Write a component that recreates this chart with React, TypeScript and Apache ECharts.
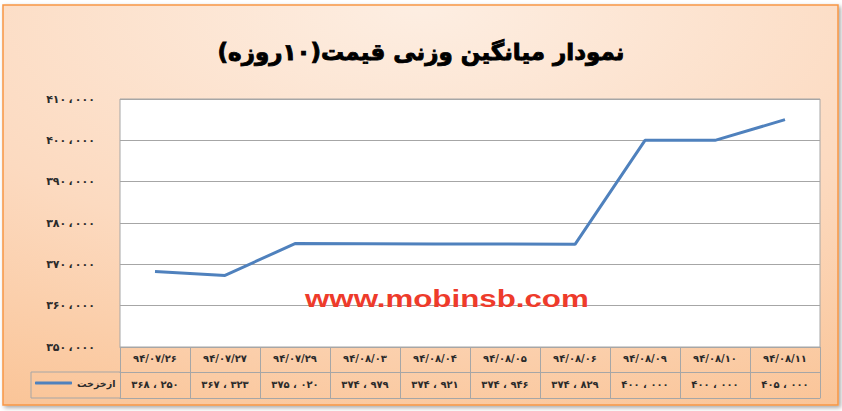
import { useEffect, useRef } from "react";
import * as echarts from "echarts";

// Dates of the 10 trading days and the weighted average price on each.
const CATEGORIES = ["94/07/26", "94/07/27", "94/07/29", "94/08/03", "94/08/04", "94/08/05", "94/08/06", "94/08/09", "94/08/10", "94/08/11"];
const PRICES = [368250, 367323, 375020, 374979, 374921, 374946, 374829, 400000, 400000, 405000];
const SERIES_NAME = "ازخزخت";
const TITLE = "نمودار میانگین وزنی قیمت(۱۰روزه)";
const WATERMARK = "www.mobinsb.com";
const Y_MIN = 350000;
const Y_MAX = 410000;
const Y_STEP = 10000;

const FONT = "DejaVu Sans";
const BLUE = "#4F81BD";
const GRID = "#A6A6A6";
const INK = "#2b2b2b";

// Latin digits -> Persian digits
const FA_DIGITS = "۰۱۲۳۴۵۶۷۸۹";
const fa = (s: string | number) => String(s).replace(/\d/g, (d) => FA_DIGITS[Number(d)]);
const thousands = (v: number, gap: string) =>
  `${fa(Math.floor(v / 1000))}${gap}،${gap}${fa(String(v % 1000).padStart(3, "0"))}`;

function buildOption() {
  const label = { interval: 0, fontSize: 10, fontWeight: "bold", color: INK, fontFamily: FONT };
  return {
    animation: false,
    textStyle: { fontFamily: FONT },
    title: {
      text: TITLE + "\u200F",
      left: "center",
      top: 35,
      textStyle: {
        fontSize: 23,
        fontWeight: "bold",
        color: "#000",
        fontFamily: FONT,
        textBorderColor: "#000",
        textBorderWidth: 0.9,
      },
    },
    legend: {
      data: [SERIES_NAME],
      left: 35,
      top: 378,
      padding: 0,
      icon: "roundRect",
      itemWidth: 37,
      itemHeight: 3,
      textStyle: { fontSize: 9.5, fontWeight: "bold", color: INK, fontFamily: FONT },
    },
    grid: { left: 120, right: 22, top: 99, bottom: 64, show: true, backgroundColor: "#fff", borderColor: GRID, borderWidth: 1 },
    xAxis: [
      {
        type: "category",
        data: CATEGORIES.map(fa),
        position: "bottom",
        axisLine: { show: true, lineStyle: { color: GRID } },
        axisTick: { show: true, interval: 0, length: 51, lineStyle: { color: GRID } },
        axisLabel: { ...label, margin: 6 },
        splitLine: { show: false },
      },
      {
        // value row of the data table
        type: "category",
        data: PRICES.map((v) => thousands(v, " ")),
        position: "bottom",
        offset: 25,
        axisLine: { show: true, lineStyle: { color: GRID } },
        axisTick: { show: false },
        axisLabel: { ...label, margin: 7 },
      },
      {
        // bottom edge of the data table
        type: "category",
        data: CATEGORIES.map(fa),
        position: "bottom",
        offset: 51,
        axisLine: { show: true, lineStyle: { color: GRID } },
        axisTick: { show: false },
        axisLabel: { show: false },
      },
    ],
    yAxis: {
      type: "value",
      min: Y_MIN,
      max: Y_MAX,
      interval: Y_STEP,
      axisLine: { show: false },
      axisTick: { show: false },
      axisLabel: {
        margin: 25,
        fontSize: 11,
        fontWeight: "bold",
        color: INK,
        fontFamily: FONT,
        padding: [0, 0, 6, 0],
        formatter: (v: number) => thousands(v, "\u2009"),
      },
      splitLine: { lineStyle: { color: GRID, width: 1 } },
    },
    series: [
      {
        name: SERIES_NAME,
        type: "line",
        data: PRICES,
        showSymbol: false,
        symbol: "none",
        lineStyle: { color: BLUE, width: 3 },
        itemStyle: { color: BLUE },
      },
    ],
    graphic: [
      {
        type: "rect",
        z: -10,
        silent: true,
        shape: { x: 3, y: 5, width: 835, height: 400 },
        style: {
          fill: new echarts.graphic.RadialGradient(0.5, 0, 1.4, [
            { offset: 0, color: "#FDEEE2" },
            { offset: 0.45, color: "#FCDAC0" },
            { offset: 1, color: "#F9B880" },
          ]),
          stroke: "#F79646",
          lineWidth: 1.5,
          shadowBlur: 4,
          shadowOffsetX: 2,
          shadowOffsetY: 2,
          shadowColor: "rgba(0,0,0,0.35)",
        },
      },
      {
        // legend cell of the data table
        type: "polyline",
        z: 5,
        silent: true,
        shape: { points: [[120, 372], [31, 372], [31, 398], [120, 398]] },
        style: { stroke: GRID, lineWidth: 1, fill: null },
      },
      {
        type: "text",
        z: 10,
        silent: true,
        x: 305,
        y: 299,
        scaleX: 1.36,
        style: {
          text: WATERMARK,
          fill: "#EE3B2B",
          fontSize: 23,
          fontWeight: "bold",
          fontFamily: "Liberation Sans",
          align: "left",
          verticalAlign: "middle",
        },
      },
    ],
  };
}

export default function App() {
  const ref = useRef<HTMLDivElement>(null);
  useEffect(() => {
    document.body.style.margin = "0";
    if (!ref.current) return;
    const chart = echarts.init(ref.current, undefined, { renderer: "svg" });
    chart.setOption(buildOption() as any);
    return () => chart.dispose();
  }, []);
  return <div ref={ref} style={{ width: 842, height: 411 }} />;
}
